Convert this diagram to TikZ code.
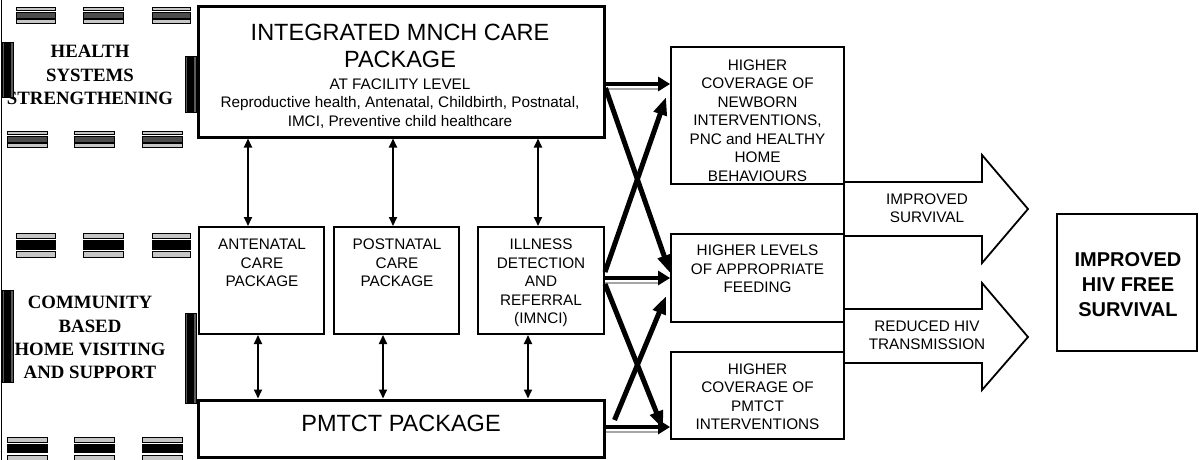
\documentclass[tikz,border=0pt]{standalone}
\usepackage{fontspec}
\setmainfont{Liberation Sans}
\newfontfamily\lserif{Liberation Serif}
\usetikzlibrary{arrows.meta,calc}
\newcommand\hbarsgrp[5]{%
  \draw[barline,fill=gray!45] (#1,#2) rectangle ({#1+#3},{#2+0.22*#4});
  \draw[barline,fill=#5] (#1,{#2+0.32*#4}) rectangle ({#1+#3},{#2+0.68*#4});
  \draw[barline,fill=gray!45] (#1,{#2+0.78*#4}) rectangle ({#1+#3},{#2+#4});
}
\newcommand\vbarsgrp[5]{%
  \draw[barline,fill=black!65] (#1,#2) rectangle ({#1+0.24*#3},{#2+#4});
  \draw[barline,fill=#5] ({#1+0.34*#3},#2) rectangle ({#1+0.66*#3},{#2+#4});
  \draw[barline,fill=black!65] ({#1+0.76*#3},#2) rectangle ({#1+#3},{#2+#4});
}
\tikzset{
  barline/.style={draw=black, line width=0.7pt},
  box/.style={draw, line width=2pt, inner sep=0pt},
  thickbox/.style={draw, line width=3pt, inner sep=0pt},
  rbox/.style={draw, line width=1.8pt, inner sep=0pt},
  txt/.style={align=center, inner sep=0pt, font=\fontsize{15.3}{18.5}\selectfont},
  bigtxt/.style={align=center, inner sep=0pt, font=\fontsize{23.5}{27}\selectfont},
  boldtxt/.style={align=center, inner sep=0pt, font=\bfseries\fontsize{20}{25}\selectfont},
  lbl/.style={align=center, inner sep=0pt, font=\lserif\bfseries\fontsize{18.8}{23.2}\selectfont},
  dbl/.style={line width=1.8pt, {Triangle[length=9pt,width=8pt]}-{Triangle[length=9pt,width=8pt]}},
  diag/.style={line width=5pt, -{Triangle[length=18pt,width=13pt]}},
  strt/.style={line width=4pt, -{Triangle[length=12pt,width=14pt]}},
  echo/.style={line width=1.3pt, draw=gray!70},
  blockarrow/.style={draw, line width=1.8pt, fill=white, line join=miter},
}
\begin{document}
\begin{tikzpicture}[x=1pt,y=-1pt]
\useasboundingbox (0,0) rectangle (1199,460);
% left border line
\draw[line width=1pt] (1,0) -- (1,460);

% left labels
\node[lbl] (hss) at (90,75) {HEALTH\\SYSTEMS\\STRENGTHENING};
\node[lbl] (comm) at (90,337.5) {COMMUNITY\\BASED\\HOME VISITING\\AND SUPPORT};

% bar decorations
\hbarsgrp{16}{7}{39}{16}{black!70}
\hbarsgrp{83}{7}{40}{16}{black!70}
\hbarsgrp{152}{7}{38}{16}{black!70}
\hbarsgrp{7}{131}{40}{16}{black!70}
\hbarsgrp{74}{131}{40}{16}{black!70}
\hbarsgrp{142}{131}{40}{16}{black!70}
\hbarsgrp{16}{233}{39}{24}{black}
\hbarsgrp{83}{233}{40}{24}{black}
\hbarsgrp{152}{233}{38}{24}{black}
\hbarsgrp{7}{437}{40}{23}{black}
\hbarsgrp{74}{437}{40}{23}{black}
\hbarsgrp{142}{437}{40}{23}{black}
\vbarsgrp{2}{42}{11}{55}{black}
\vbarsgrp{185}{56}{11}{56}{black}
\vbarsgrp{2}{290}{11}{92}{black}
\vbarsgrp{185}{313}{11}{90}{black}

% main boxes
\node[thickbox, minimum width=406pt, minimum height=130pt] (mnch) at (401,72) {};
\node[bigtxt] (mnchA) at (400,45.5) {INTEGRATED MNCH CARE\\PACKAGE};
\node[txt] (mnchB) at (400,103.5) {AT FACILITY LEVEL\\Reproductive health, Antenatal, Childbirth, Postnatal,\\IMCI, Preventive child healthcare};

\node[box, minimum width=125pt, minimum height=107pt] (ante) at (261.5,280.5) {};
\node[txt] (anteT) at (262,263) {ANTENATAL\\CARE\\PACKAGE};
\node[box, minimum width=125pt, minimum height=107pt] (post) at (396.5,280.5) {};
\node[txt] (postT) at (397,263) {POSTNATAL\\CARE\\PACKAGE};
\node[box, minimum width=126pt, minimum height=107pt] (ill) at (541,280.5) {};
\node[txt] (illT) at (541,283) {ILLNESS\\DETECTION\\AND\\REFERRAL\\(IMNCI)};

\node[thickbox, minimum width=406pt, minimum height=57pt] (pmtct) at (401,428.5) {};
\node[bigtxt] (pmtctT) at (401,423) {PMTCT PACKAGE};

% right boxes
\node[rbox, minimum width=173pt, minimum height=137pt] (r1) at (757.5,115.5) {};
\node[txt] (r1T) at (757.5,120.5) {HIGHER\\COVERAGE OF\\NEWBORN\\INTERVENTIONS,\\PNC and HEALTHY\\HOME\\BEHAVIOURS};
\node[rbox, minimum width=173pt, minimum height=88pt] (r2) at (757.5,278) {};
\node[txt] (r2T) at (757.5,269) {HIGHER LEVELS\\OF APPROPRIATE\\FEEDING};
\node[rbox, minimum width=173pt, minimum height=87pt] (r3) at (757.5,395.5) {};
\node[txt] (r3T) at (757.5,396.5) {HIGHER\\COVERAGE OF\\PMTCT\\INTERVENTIONS};

% block arrows
\draw[blockarrow] (844,182) -- (982,182) -- (982,155) -- (1028,209) -- (982,263) -- (982,236) -- (844,236) -- cycle;
\node[txt] (survT) at (927,208) {IMPROVED\\SURVIVAL};
\draw[blockarrow] (844,309) -- (982,309) -- (982,283) -- (1028,337) -- (982,390) -- (982,363) -- (844,363) -- cycle;
\node[txt] (redT) at (927,335) {REDUCED HIV\\TRANSMISSION};

% final box
\node[box, minimum width=140pt, minimum height=137pt] (fin) at (1127,282.5) {};
\node[boldtxt] (finT) at (1128,285) {IMPROVED\\HIV FREE\\SURVIVAL};

% vertical double arrows
\coordinate (a1) at (248,0);
\coordinate (a2) at (393,0);
\coordinate (a3) at (538,0);
\coordinate (b1) at (258,0);
\coordinate (b2) at (383,0);
\coordinate (b3) at (528,0);
\draw[dbl] (mnch.south -| a1) -- (ante.north -| a1);
\draw[dbl] (mnch.south -| a2) -- (post.north -| a2);
\draw[dbl] (mnch.south -| a3) -- (ill.north -| a3);
\draw[dbl] (ante.south -| b1) -- (pmtct.north -| b1);
\draw[dbl] (post.south -| b2) -- (pmtct.north -| b2);
\draw[dbl] (ill.south -| b3) -- (pmtct.north -| b3);

% straight arrows with echo line
\draw[echo] ([yshift=-17pt]mnch.east) -- ([xshift=-12pt,yshift=26.5pt]r1.west);
\draw[strt] ([yshift=-12pt]mnch.east) -- ([yshift=31.5pt]r1.west);
\draw[echo] ([yshift=-2.5pt]ill.east) -- ([xshift=-12pt,yshift=-5pt]r2.west);
\draw[strt] ([yshift=2.5pt]ill.east) -- (r2.west);
\draw[echo] ([yshift=-3.5pt]pmtct.east) -- ([xshift=-12pt,yshift=-36.5pt]r3.west);
\draw[strt] ([yshift=1.5pt]pmtct.east) -- ([yshift=-31.5pt]r3.west);

% diagonal arrows
\draw[diag] ([yshift=-16pt]mnch.east) -- ([yshift=5pt]r2.west);
\draw[diag] ([yshift=8.5pt]ill.east) -- ([xshift=-4pt,yshift=18.5pt]r1.west);
\draw[diag] ([yshift=-3.5pt]ill.east) -- ([xshift=-7pt,yshift=-33.5pt]r3.west);
\draw[diag] ([xshift=9pt,yshift=8.5pt]pmtct.east) -- ([xshift=-4pt,yshift=-18pt]r2.west);
\end{tikzpicture}
\end{document}
